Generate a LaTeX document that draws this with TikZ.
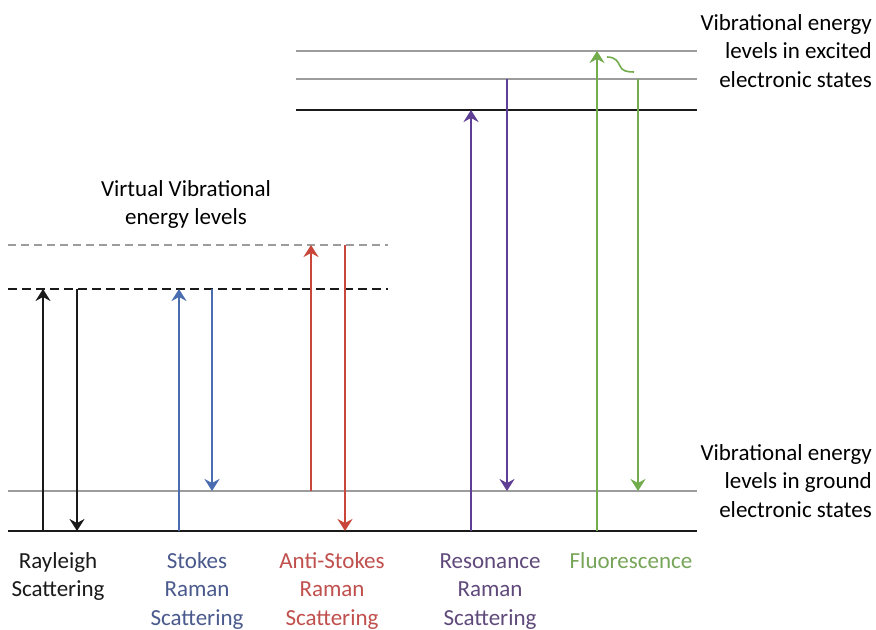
\documentclass[tikz,border=0pt]{standalone}
\usepackage{fontspec}
\setmainfont{Carlito}
\usetikzlibrary{arrows.meta}
\definecolor{bg}{HTML}{FFFFFF}
\definecolor{ink}{HTML}{1A1A1A}
\definecolor{lvl}{HTML}{9C9C9C}
\definecolor{stokes}{HTML}{4A6CB0}
\definecolor{stokestxt}{HTML}{4A5A8C}
\definecolor{anti}{HTML}{C8473A}
\definecolor{antitxt}{HTML}{C0504D}
\definecolor{reso}{HTML}{5E3F95}
\definecolor{resotxt}{HTML}{604A7B}
\definecolor{fluo}{HTML}{72AC4D}
\definecolor{fluotxt}{HTML}{77A55A}

\begin{document}
\begin{tikzpicture}[x=1pt,y=-1pt,
  level/.style={line width=2.4pt,ink},
  sublevel/.style={line width=1.4pt,lvl},
  virt/.style={level,dash pattern=on 9pt off 5pt},
  virtsub/.style={sublevel,dash pattern=on 8pt off 5pt},
  trans/.style={-{Stealth[length=12pt,width=15pt,inset=4pt]},line width=2.2pt},
  lbl/.style={align=center,inner sep=0pt,font=\fontsize{23}{28.5}\selectfont}]
  \fill[bg] (0,0) rectangle (876,629);

  % ===== energy levels =====
  \draw[level] (8,531) -- (697,531);
  \draw[sublevel] (8,491) -- (697,491);
  \draw[virt] (8,289) -- (388,289);
  \draw[virtsub] (8,245) -- (388,245);
  \draw[level] (296,110) -- (697,110);
  \draw[sublevel] (296,79) -- (697,79);
  \draw[sublevel] (296,51) -- (697,51);

  % ===== end points =====
  \coordinate (rayA) at (43,531);  \coordinate (rayB) at (43,289);
  \coordinate (rayC) at (77,289);  \coordinate (rayD) at (77,531);
  \coordinate (stoA) at (179,531); \coordinate (stoB) at (179,289);
  \coordinate (stoC) at (212,289); \coordinate (stoD) at (212,491);
  \coordinate (antA) at (311,491); \coordinate (antB) at (311,245);
  \coordinate (antC) at (345,245); \coordinate (antD) at (345,531);
  \coordinate (resA) at (471,531); \coordinate (resB) at (471,110);
  \coordinate (resC) at (507,79);  \coordinate (resD) at (507,491);
  \coordinate (fluA) at (597,531); \coordinate (fluB) at (597,51);
  \coordinate (fluC) at (638,79);  \coordinate (fluD) at (638,491);
  \coordinate (relaxA) at (607,57); \coordinate (relaxB) at (634,72);

  % ===== transitions =====
  \draw[trans,ink] (rayA) -- (rayB);
  \draw[trans,ink] (rayC) -- (rayD);
  \draw[trans,stokes] (stoA) -- (stoB);
  \draw[trans,stokes] (stoC) -- (stoD);
  \draw[trans,anti] (antA) -- (antB);
  \draw[trans,anti] (antC) -- (antD);
  \draw[trans,reso] (resA) -- (resB);
  \draw[trans,reso] (resC) -- (resD);
  \draw[trans,fluo] (fluA) -- (fluB);
  \draw[trans,fluo] (fluC) -- (fluD);
  \draw[fluo,line width=1.6pt] (relaxA) .. controls (616,57) and (618,62) .. (620,66)
    .. controls (622,71) and (627,72) .. (relaxB);

  % ===== labels =====
  \node[lbl,anchor=north] (virtlbl) at (186,180) {Virtual Vibrational\\energy levels};
  \node[lbl,anchor=north east,align=right] (exclbl) at (872,14) {Vibrational energy\\levels in excited\\electronic states};
  \node[lbl,anchor=north east,align=right] (gndlbl) at (872,444) {Vibrational energy\\levels in ground\\electronic states};
  \node[lbl,anchor=north,text=ink] (raylbl) at (58,552) {Rayleigh\\Scattering};
  \node[lbl,anchor=north,text=stokestxt] (stolbl) at (197,552) {Stokes\\Raman\\Scattering};
  \node[lbl,anchor=north,text=antitxt] (antlbl) at (332,552) {Anti-Stokes\\Raman\\Scattering};
  \node[lbl,anchor=north,text=resotxt] (reslbl) at (490,553.2) {Resonance\\Raman\\Scattering};
  \node[lbl,anchor=north,text=fluotxt] (flulbl) at (631,552) {Fluorescence};
\end{tikzpicture}
\end{document}
